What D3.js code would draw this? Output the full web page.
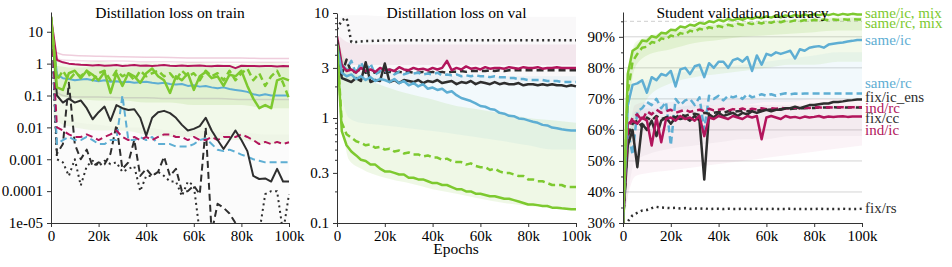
<!DOCTYPE html>
<html>
<head>
<meta charset="utf-8">
<script src="https://cdn.jsdelivr.net/npm/d3@7"></script>
<style>
  body { margin: 0; background: #fff; }
  svg { display: block; font-family: "Liberation Serif", "Times New Roman", serif; }
  .axis text { font-size: 15px; fill: #000; font-family: "Liberation Serif", serif; }
  .axis path, .axis line { stroke: #333; stroke-width: 1; }
  .minor path { display: none; }
  .minor line { stroke: #333; }
  .title { font-size: 15.5px; fill: #000; }
  .legend { font-size: 15px; }
</style>
</head>
<body>
<svg id="chart" width="952" height="267"></svg>
<script>
"use strict";

// ---- shared axis values ----
const xTicks = [0, 20, 40, 60, 80, 100];
const xTickLabels = ["0", "20k", "40k", "60k", "80k", "100k"];

const trainTicks = [1e-5, 1e-4, 0.001, 0.01, 0.1, 1, 10];
const trainTickLabels = ["1e-05", "0.0001", "0.001", "0.01", "0.1", "1", "10"];
const valTicks = [0.1, 0.3, 1, 3, 10];
const valTickLabels = ["0.1", "0.3", "1", "3", "10"];
const accTicks = [30, 40, 50, 60, 70, 80, 90];
const accTickLabels = ["30%", "40%", "50%", "60%", "70%", "80%", "90%"];
const accMinorTicks = [35, 45, 55, 65, 75, 85, 95];

// ---- epochs (thousands) ----
const trainEpochs = [0, 2.5, 5, 7.5, 10, 12.5, 15, 17.5, 20, 22.5, 25, 27.5, 30, 32.5, 35, 37.5, 40, 42.5, 45, 47.5,
  50, 52.5, 55, 57.5, 60, 62.5, 65, 67.5, 70, 72.5, 75, 77.5, 80, 82.5, 85, 87.5, 90, 92.5, 95, 97.5, 100];
const epochs = [0, 2, 4, 6, 8, 10, 12, 14, 16, 18, 20, 22, 24, 26, 28, 30, 32, 34, 36, 38, 40, 42, 44, 46, 48,
  50, 52, 54, 56, 58, 60, 62, 64, 66, 68, 70, 72, 74, 76, 78, 80, 82, 84, 86, 88, 90, 92, 94, 96, 98, 100];
const bandEpochs = [1, 5, 10, 20, 30, 40, 50, 60, 70, 80, 90, 100];

// ---- distillation loss on train ----
const trainRedSolid = [30, 1.3, 1.1, 1.0, 0.95, 0.92, 0.9, 0.88, 0.9, 0.86, 0.88, 0.9, 0.85, 0.87, 0.9, 0.86, 0.88, 0.85, 0.87, 0.9,
  0.86, 0.85, 0.88, 0.84, 0.86, 0.88, 0.85, 0.83, 0.86, 0.84, 0.85, 0.72, 0.86, 0.84, 0.85, 0.83, 0.85, 0.84, 0.82, 0.84, 0.83];
const trainRedDashed = [30, 0.01, 0.008, 0.006, 0.005, 0.005, 0.006, 0.005, 0.004, 0.005, 0.006, 0.008, 0.005, 0.004, 0.005, 0.004,
  0.005, 0.004, 0.005, 0.006, 0.006, 0.005, 0.005, 0.004, 0.005, 0.004, 0.004, 0.005, 0.004, 0.005, 0.005, 0.005, 0.006, 0.005,
  0.004, 0.003, 0.0035, 0.003, 0.0035, 0.003, 0.0034];
const trainBlueSolid = [30, 0.45, 0.35, 0.33, 0.3, 0.32, 0.33, 0.3, 0.28, 0.3, 0.27, 0.28, 0.26, 0.27, 0.25, 0.26, 0.27, 0.25, 0.24, 0.25,
  0.23, 0.22, 0.23, 0.2, 0.21, 0.19, 0.2, 0.18, 0.17, 0.18, 0.16, 0.15, 0.14, 0.13, 0.11, 0.1, 0.11, 0.1, 0.1, 0.1, 0.1];
const trainBlueDashed = [30, 0.003, 0.004, 0.005, 0.004, 0.004, 0.005, 0.004, 0.003, 0.003, 0.004, 0.004, 0.1, 0.004, 0.004, 0.005,
  0.004, 0.005, 0.003, 0.003, 0.003, 0.0025, 0.0025, 0.0025, 0.003, 0.004, 0.0045, 0.003, 0.002, 0.0018, 0.002, 0.0017, 0.0014,
  0.0012, 0.001, 0.0009, 0.0008, 0.0008, 0.0008, 0.0008, 0.0008];
const trainBlackSolid = [30, 0.1, 0.06, 0.08, 0.06, 0.07, 0.04, 0.018, 0.03, 0.045, 0.016, 0.05, 0.04, 0.035, 0.037, 0.02, 0.0055,
  0.02, 0.03, 0.033, 0.028, 0.02, 0.012, 0.008, 0.009, 0.011, 0.02, 0.008, 0.004, 0.0021, 0.004, 0.008, 0.004, 0.0018, 0.0003,
  0.00024, 0.00025, 0.0002, 0.0005, 0.0002, 0.0002];
const trainBlackDashed = [30, 0.0015, 0.003, 0.25, 0.003, 0.001, 0.002, 0.0006, 0.0008, 0.0007, 0.0015, 0.012, 0.0005, 0.0008,
  0.004, 0.0003, 0.0005, 0.0003, 0.0004, 0.0012, 0.0003, 0.0005, 0.0001, 0.0001, 0.00015, 0.00008, 0.01, 0.000005, 0.00004,
  0.00003, 0.00002, 0.00001, null, null, null, null, null, null, null, null, null];
const trainBlackDotted = [30, 0.001, 0.0008, 0.0003, 0.001, 0.00015, 0.0006, 0.0009, 0.0006, 0.0009, 0.0007, 0.0008, 0.0004,
  0.0005, 0.0006, 0.0001, 0.0003, 0.0003, 0.0004, 0.0003, 0.0002, 0.0002, 0.00007, 0.0002, 0.00015, 0.000005, null, null, null,
  null, null, null, null, null, null, 0.000005, 0.00008, 0.0001, 0.0001, 0.000005, 0.00008];
const trainGreenSolid = [30, 0.18, 0.15, 0.5, 0.6, 0.35, 0.6, 0.45, 0.3, 0.55, 0.12, 0.5, 0.2, 0.5, 0.4, 0.25, 0.5, 0.7, 0.4, 0.3,
  0.12, 0.4, 0.3, 0.5, 0.15, 0.4, 0.55, 0.35, 0.4, 0.2, 0.45, 0.4, 0.6, 0.2, 0.08, 0.04, 0.05, 0.04, 0.3, 0.35, 0.3];
const trainGreenDashed = [30, 0.3, 0.6, 0.3, 0.5, 0.4, 0.6, 0.3, 0.5, 0.6, 0.3, 0.6, 0.4, 0.5, 0.3, 0.6, 0.4, 0.5, 0.6, 0.4, 0.5,
  0.3, 0.6, 0.4, 0.5, 0.3, 0.6, 0.4, 0.5, 0.3, 0.6, 0.3, 0.5, 0.7, 0.3, 0.5, 0.2, 0.4, 0.6, 0.25, 0.08];
// faint background of the many other runs
const trainGreenLow = [0.02, 0.012, 0.01, 0.008, 0.008, 0.006, 0.005, 0.005, 0.004, 0.004, 0.003, 0.003];
const trainGreenHigh = [1.5, 1.1, 1.0, 1.2, 1.0, 1.1, 1.0, 1.1, 1.0, 1.0, 1.1, 1.0];
const trainGreenCoreLow = [0.1, 0.09, 0.08, 0.07, 0.07, 0.06, 0.06, 0.05, 0.05, 0.05, 0.04, 0.04];
const trainGreenCoreHigh = [0.9, 0.8, 0.75, 0.8, 0.75, 0.8, 0.75, 0.8, 0.75, 0.8, 0.75, 0.8];
const trainGrayLow = [0.00001, 0.00001, 0.00001, 0.00001, 0.00001, 0.00001, 0.00001, 0.00001, 0.00001, 0.00001, 0.00001, 0.00001];
const trainGrayHigh = [0.05, 0.02, 0.015, 0.012, 0.01, 0.01, 0.008, 0.008, 0.007, 0.007, 0.006, 0.006];
const trainPinkFaint = [2.5, 1.9, 1.8, 1.7, 1.65, 1.6, 1.55, 1.5, 1.5, 1.5, 1.45, 1.45];
const trainPinkFaint2 = [1.6, 1.3, 1.25, 1.2, 1.2, 1.15, 1.15, 1.1, 1.1, 1.1, 1.1, 1.1];
const trainGrayFaint = [0.15, 0.1, 0.09, 0.09, 0.085, 0.085, 0.08, 0.08, 0.08, 0.075, 0.075, 0.075];

// ---- distillation loss on val ----
const valBlueSolid = [5.0, 2.7, 2.5, 2.6, 2.35, 2.5, 2.3, 2.45, 2.25, 2.35, 2.3, 2.2, 2.35, 2.15, 2.25, 2.05, 2.15, 2.0, 2.1, 1.9,
  1.95, 1.85, 1.9, 1.75, 1.8, 1.65, 1.55, 1.5, 1.45, 1.38, 1.3, 1.28, 1.22, 1.2, 1.12, 1.1, 1.05, 1.04, 0.99, 0.98, 0.95, 0.92,
  0.9, 0.86, 0.85, 0.81, 0.8, 0.78, 0.77, 0.76, 0.76];
const valBlueDashed = [5.0, 3.2, 2.9, 3.5, 2.6, 3.4, 2.7, 3.3, 2.6, 2.8, 2.7, 2.9, 2.6, 2.75, 2.6, 2.7, 2.65, 2.7, 2.6, 2.65, 2.6,
  2.7, 2.55, 2.6, 2.55, 2.6, 2.5, 2.55, 2.5, 2.55, 2.5, 2.5, 2.45, 2.5, 2.45, 2.45, 2.4, 2.4, 2.35, 2.35, 2.3, 2.3, 2.3, 2.3,
  2.25, 2.25, 2.25, 2.2, 2.2, 2.2, 2.2];
const valRedSolid = [6.0, 3.2, 2.8, 2.9, 2.7, 3.0, 2.8, 2.9, 2.75, 3.0, 2.85, 2.9, 2.8, 3.05, 2.9, 2.85, 3.0, 2.9, 2.95, 2.85, 3.0,
  2.9, 3.0, 3.5, 2.85, 3.0, 2.9, 3.1, 2.95, 3.0, 2.9, 3.05, 2.95, 3.0, 3.0, 2.95, 3.05, 3.0, 2.95, 3.05, 3.0, 3.0, 3.05, 2.95,
  3.0, 3.0, 3.05, 3.0, 3.0, 3.0, 3.0];
const valBlackSolid = [5.5, 2.4, 2.3, 2.2, 2.4, 2.25, 3.4, 2.2, 2.3, 2.25, 3.3, 2.2, 2.3, 2.15, 2.3, 2.25, 2.2, 2.3, 2.15, 2.25,
  2.2, 2.3, 2.15, 2.2, 2.25, 2.1, 2.2, 2.15, 2.25, 2.1, 2.2, 2.15, 2.1, 2.2, 2.1, 2.15, 2.1, 2.1, 2.15, 2.05, 2.1, 2.1, 2.05,
  2.1, 2.05, 2.1, 2.05, 2.05, 2.0, 2.05, 2.0];
const valBlackDashed = [5.5, 2.6, 3.6, 2.7, 2.8, 2.9, 2.7, 2.8, 2.7, 2.75, 2.7, 2.75, 2.7, 2.75, 2.7, 2.75, 2.7, 2.7, 2.75, 2.7,
  2.75, 2.7, 2.75, 2.7, 2.75, 2.75, 2.8, 2.75, 2.8, 2.8, 2.8, 2.8, 2.85, 2.8, 2.85, 2.8, 2.85, 2.85, 2.85, 2.85, 2.85, 2.85,
  2.85, 2.85, 2.85, 2.85, 2.85, 2.85, 2.85, 2.85, 2.85];
const valBlackDotted = [7, 8.5, 9, 5.3, 5.3, 5.35, 5.4, 5.4, 5.45, 5.45, 5.5, 5.5, 5.5, 5.5, 5.5, 5.5, 5.5, 5.5, 5.5, 5.5, 5.5,
  5.5, 5.5, 5.5, 5.5, 5.5, 5.5, 5.5, 5.5, 5.5, 5.5, 5.5, 5.5, 5.5, 5.5, 5.5, 5.5, 5.5, 5.5, 5.5, 5.5, 5.5, 5.5, 5.5, 5.5,
  5.5, 5.5, 5.5, 5.5, 5.5, 5.5];
const valGreenDashed = [5.0, 0.9, 0.7, 0.65, 0.6, 0.58, 0.55, 0.56, 0.52, 0.53, 0.5, 0.51, 0.48, 0.49, 0.46, 0.47, 0.45, 0.45,
  0.43, 0.44, 0.42, 0.42, 0.4, 0.41, 0.39, 0.38, 0.38, 0.36, 0.37, 0.35, 0.34, 0.34, 0.32, 0.33, 0.31, 0.3, 0.3, 0.29, 0.28,
  0.28, 0.26, 0.26, 0.25, 0.25, 0.24, 0.23, 0.23, 0.23, 0.22, 0.22, 0.22];
const valGreenSolid = [5.0, 0.75, 0.55, 0.48, 0.44, 0.4, 0.39, 0.36, 0.36, 0.33, 0.31, 0.31, 0.3, 0.29, 0.29, 0.27, 0.27, 0.26,
  0.26, 0.25, 0.24, 0.24, 0.23, 0.23, 0.22, 0.21, 0.21, 0.2, 0.2, 0.19, 0.19, 0.185, 0.18, 0.18, 0.175, 0.17, 0.17, 0.165,
  0.16, 0.155, 0.15, 0.15, 0.148, 0.145, 0.145, 0.14, 0.14, 0.138, 0.137, 0.135, 0.135];
const valGrayLow = [3, 2.3, 2.2, 2.2, 2.2, 2.2, 2.2, 2.2, 2.2, 2.2, 2.2, 2.2];
const valGrayHigh = [9, 9.5, 9.5, 9.3, 9.2, 9.2, 9.2, 9.2, 9.2, 9.2, 9.2, 9.2];
const valPinkLow = [3.5, 3.2, 3.2, 3.2, 3.2, 3.2, 3.2, 3.2, 3.2, 3.2, 3.2, 3.2];
const valPinkHigh = [6, 5.2, 5.0, 5.0, 5.0, 5.0, 5.0, 5.0, 5.0, 5.0, 5.0, 5.0];
const valBlueLow = [2, 1.0, 0.9, 0.85, 0.8, 0.75, 0.7, 0.65, 0.6, 0.55, 0.5, 0.5];
const valBlueHigh = [4, 3.0, 2.8, 2.7, 2.6, 2.6, 2.5, 2.5, 2.5, 2.5, 2.5, 2.5];
const valGreenLow = [1.5, 0.4, 0.33, 0.27, 0.24, 0.21, 0.19, 0.17, 0.155, 0.145, 0.14, 0.135];
const valGreenHigh = [5, 3.0, 2.5, 2.0, 1.7, 1.5, 1.3, 1.2, 1.1, 1.0, 0.95, 0.9];

// ---- student validation accuracy (%) ----
const accGreenSolid = [30, 78, 85.5, 86.5, 88.8, 88.6, 90.2, 89.8, 91.3, 91.1, 92.3, 92.1, 93.3, 93.0, 93.9, 93.6, 94.5, 94.2,
  95.0, 94.7, 95.5, 95.0, 95.8, 95.3, 95.9, 95.5, 96.2, 95.8, 96.4, 96.0, 96.6, 96.2, 96.8, 96.3, 96.9, 96.5, 97.1, 96.6, 97.2,
  96.8, 97.3, 96.9, 97.4, 97.0, 97.4, 97.0, 97.4, 97.1, 97.4, 97.2, 97.2];
const accGreenDashed = [30, 72, 82, 84.5, 86.5, 86.8, 88.3, 88.0, 89.5, 89.2, 90.4, 90.0, 91.2, 90.8, 92.0, 91.6, 92.6, 92.2,
  93.1, 92.7, 93.5, 93.1, 93.9, 93.5, 94.2, 93.8, 94.5, 94.1, 94.7, 94.3, 94.9, 94.5, 95.1, 94.7, 95.2, 94.9, 95.3, 95.0, 95.4,
  95.1, 95.5, 95.2, 95.6, 95.3, 95.6, 95.4, 95.7, 95.5, 95.7, 95.6, 95.6];
const accBlueSolid = [30, 68, 74.5, 75, 76, 72, 77, 76, 78, 77.5, 79, 74, 79.5, 80, 78, 80.5, 81, 77, 81.5, 80, 82, 82, 80, 82.5,
  83, 82, 83.5, 79, 84, 81, 84.5, 84, 85, 84.5, 85, 85.5, 83, 86, 85.5, 86.5, 86.8, 87, 86.5, 87.5, 87.8, 88, 88.2, 88.5, 88.7,
  89, 89];
const accBlueDashed = [30, 60, 52, 66, 67, 69, 68, 70, 67, 69, 55, 70, 68, 69.5, 70, 68, 70.5, 60, 71, 70, 71, 69.5, 71, 70.5, 71,
  70, 71.5, 70.5, 71, 71.5, 71, 71.5, 71, 71.5, 71.8, 71.5, 71.7, 71.6, 71.7, 71.7, 71.7, 71.7, 71.7, 71.7, 71.7, 71.7, 71.7,
  71.7, 71.7, 71.7, 71.7];
const accBlackSolid = [30, 55, 60, 48, 62, 60, 63, 58, 63, 64, 62, 64, 63.5, 64, 63, 64.5, 63, 44, 65, 64, 65.5, 64.5, 65, 65.5,
  64.5, 65.5, 65, 66, 65.5, 66, 66.5, 66, 66.5, 66.5, 67, 67, 67.5, 67, 67.5, 68, 68, 68.3, 68.5, 68.5, 69, 69, 69.2, 69.5,
  69.6, 69.8, 69.8];
const accBlackDashed = [30, 58, 62, 63, 61, 64, 63, 64.5, 63.5, 64, 64.5, 64, 65, 64.5, 65, 65.2, 64.8, 65.5, 65.2, 65.5, 65.8,
  65.5, 66, 65.8, 66, 66.2, 66, 66.3, 66.2, 66.5, 66.4, 66.6, 66.5, 66.7, 66.8, 66.7, 66.9, 67, 67, 67.1, 67.1, 67.2, 67.2,
  67.2, 67.3, 67.2, 67.3, 67.2, 67.3, 67.2, 67.2];
const accRedSolid = [30, 62, 63, 62, 64, 63, 55, 64, 56, 63.5, 64, 63, 64.5, 63.5, 64, 63, 64.5, 58, 64, 63.5, 64.5, 64, 63.5,
  64.5, 64, 63.5, 64.5, 64, 64.5, 57, 64, 64.5, 64, 63.5, 64.5, 64, 64.2, 63.8, 64.3, 64, 64.2, 64.5, 64, 64.3, 64.2, 64.3,
  64.4, 64.2, 64.3, 64.3, 64.3];
const accRedDashed = [30, 60, 64, 65, 63, 66, 65, 66.5, 65.5, 66, 66.5, 65.5, 66, 66.5, 65.8, 66.2, 66.5, 66, 66.8, 66.3, 66.5,
  66.8, 66.2, 66.7, 66.5, 66.9, 66.4, 66.8, 66.6, 67, 66.7, 67, 66.8, 67.1, 66.9, 67, 67.2, 67, 67.2, 67.1, 67.2, 67.3, 67.1,
  67.3, 67.2, 67.3, 67.3, 67.2, 67.3, 67.3, 67.3];
const accBlackDotted = [30, 30.5, 32.5, 33.3, 34, 34.2, 34.8, 35.2, 35, 34.9, 34.8, 34.9, 34.7, 34.8, 34.6, 34.7, 34.6, 34.7,
  34.5, 34.6, 34.6, 34.5, 34.6, 34.5, 34.5, 34.6, 34.5, 34.5, 34.6, 34.5, 34.5, 34.6, 34.5, 34.5, 34.5, 34.6, 34.5, 34.5, 34.5,
  34.5, 34.5, 34.6, 34.5, 34.5, 34.5, 34.5, 34.6, 34.5, 34.5, 34.5, 34.6];
const accGreenLow = [45, 60, 70, 75, 77, 78, 79, 80, 81, 81, 82, 82];
const accGreenHigh = [70, 88, 90, 92, 93.5, 94.5, 95, 95.5, 96, 96, 96.5, 96.5];
const accGreenCoreLow = [55, 80, 84, 86, 88, 89, 90, 90.5, 91, 91.5, 92, 92];
const accGreenCoreHigh = [68, 87, 89.5, 91.5, 93, 94, 94.5, 95, 95.5, 95.8, 96, 96.2];
const accBlueLow = [40, 62, 64, 66, 67, 68, 68, 69, 69, 70, 70, 70];
const accBlueHigh = [55, 74, 76, 78, 79, 80, 81, 82, 83, 84, 85, 85];
const accPinkLow = [35, 45, 46, 47, 48, 49, 50, 51, 52, 53, 54, 55];
const accPinkHigh = [45, 68, 69, 69, 70, 70, 70, 70, 70, 70, 70, 70];
const accGrayLow = [32, 50, 52, 54, 55, 56, 57, 57, 58, 58, 58, 58];
const accGrayHigh = [45, 66, 67, 67, 68, 68, 68, 68, 68, 68, 68, 68];
const accGrid = [40, 50, 60, 70, 80, 90];
const accDashedGrid = [95];

const legendLabels = ["same/ic, mix", "same/rc, mix", "same/ic", "same/rc", "fix/ic_ens", "ind/rc", "fix/cc", "ind/ic", "fix/rs"];
const legendLevels = [97.9, 94.6, 89.1, 75.3, 70.7, 67.3, 63.8, 60.1, 35.0];
const legendGroups = ["green", "green", "blue", "blue", "black", "red", "black", "red", "black"];

const titles = ["Distillation loss on train", "Distillation loss on val", "Student validation accuracy"];

const COLORS = { green: "#7dc92f", blue: "#5eaed3", red: "#b2155c", black: "#2e2e2e", pink: "#c9588a", gray: "#9a8fa0" };
const DASH = { solid: null, dashed: "7,4", dotted: "2,3.5" };

const svg = d3.select("#chart");
const defs = svg.append("defs");

function drawPanel(cfg) {
  const x = d3.scaleLinear().domain([0, 100]).range([cfg.left, cfg.right]);
  const y = cfg.y;
  const g = svg.append("g");

  defs.append("clipPath").attr("id", "clip-" + cfg.id)
    .append("rect")
    .attr("x", cfg.left).attr("y", cfg.top - 1)
    .attr("width", cfg.right - cfg.left + 2).attr("height", cfg.bottom - cfg.top + 1);

  const plot = g.append("g").attr("clip-path", `url(#clip-${cfg.id})`);

  (cfg.grid || []).forEach(v => {
    plot.append("line")
      .attr("x1", cfg.left).attr("x2", cfg.right)
      .attr("y1", y(v)).attr("y2", y(v))
      .attr("stroke", "#d4d4d4").attr("stroke-width", 1);
  });
  (cfg.dashedGrid || []).forEach(v => {
    plot.append("line")
      .attr("x1", cfg.left).attr("x2", cfg.right)
      .attr("y1", y(v)).attr("y2", y(v))
      .attr("stroke", "#cfcfcf").attr("stroke-dasharray", "4,3");
  });

  cfg.bands.forEach(b => {
    const area = d3.area()
      .x((d, i) => x(bandEpochs[i]))
      .y0((d, i) => y(b.low[i]))
      .y1((d, i) => y(b.high[i]))
      .curve(d3.curveMonotoneX);
    plot.append("path")
      .attr("d", area(b.low))
      .attr("fill", COLORS[b.color])
      .attr("opacity", b.opacity);
  });

  cfg.faint.forEach(f => {
    const line = d3.line()
      .x((d, i) => x(bandEpochs[i]))
      .y(d => y(d))
      .curve(d3.curveMonotoneX);
    plot.append("path")
      .attr("d", line(f.values))
      .attr("fill", "none")
      .attr("stroke", COLORS[f.color])
      .attr("stroke-width", 1.5)
      .attr("opacity", f.opacity);
  });

  cfg.series.forEach(s => {
    const line = d3.line()
      .defined(d => d != null)
      .x((d, i) => x(cfg.epochs[i]))
      .y(d => y(d));
    plot.append("path")
      .attr("d", line(s.values))
      .attr("fill", "none")
      .attr("stroke", COLORS[s.color])
      .attr("stroke-width", s.width || cfg.lineWidth)
      .attr("stroke-dasharray", DASH[s.dash])
      .attr("stroke-linejoin", "round");
  });

  g.append("g")
    .attr("class", "axis")
    .attr("transform", `translate(${cfg.left},0)`)
    .call(d3.axisLeft(y).tickValues(cfg.ticks).tickFormat((d, i) => cfg.tickLabels[i]).tickSize(4).tickPadding(4).tickSizeOuter(0));

  if (cfg.minorTicks) {
    g.append("g")
      .attr("class", "axis minor")
      .attr("transform", `translate(${cfg.left},0)`)
      .call(d3.axisLeft(y).tickValues(cfg.minorTicks).tickFormat("").tickSize(2));
  }

  g.append("g")
    .attr("class", "axis")
    .attr("transform", `translate(0,${cfg.bottom})`)
    .call(d3.axisBottom(x).tickValues(xTicks).tickFormat((d, i) => xTickLabels[i]).tickSize(4).tickPadding(3).tickSizeOuter(0));

  g.append("text")
    .attr("class", "title")
    .attr("x", (cfg.left + cfg.right) / 2)
    .attr("y", 18)
    .attr("text-anchor", "middle")
    .text(cfg.title);

  return { x, y };
}

const logMinor = [0.2, 0.4, 0.5, 0.6, 0.7, 0.8, 0.9, 2, 4, 5, 6, 7, 8, 9];

drawPanel({
  id: "train", title: titles[0], left: 51, right: 289, top: 12, bottom: 223,
  y: d3.scaleLog().domain([1e-5, 41.7]).range([223, 12]),
  ticks: trainTicks, tickLabels: trainTickLabels,
  epochs: trainEpochs, lineWidth: 2,
  bands: [
    { low: trainGrayLow, high: trainGrayHigh, color: "gray", opacity: 0.04 },
    { low: trainGreenLow, high: trainGreenHigh, color: "green", opacity: 0.1 },
    { low: trainGreenCoreLow, high: trainGreenCoreHigh, color: "green", opacity: 0.14 }
  ],
  faint: [
    { values: trainPinkFaint, color: "pink", opacity: 0.3 },
    { values: trainPinkFaint2, color: "pink", opacity: 0.2 },
    { values: trainGrayFaint, color: "gray", opacity: 0.3 }
  ],
  series: [
    { values: trainBlackDotted, color: "black", dash: "dotted" },
    { values: trainBlackDashed, color: "black", dash: "dashed" },
    { values: trainBlueDashed, color: "blue", dash: "dashed" },
    { values: trainRedDashed, color: "red", dash: "dashed" },
    { values: trainBlackSolid, color: "black", dash: "solid" },
    { values: trainBlueSolid, color: "blue", dash: "solid" },
    { values: trainRedSolid, color: "red", dash: "solid" },
    { values: trainGreenDashed, color: "green", dash: "dashed", width: 2.5 },
    { values: trainGreenSolid, color: "green", dash: "solid", width: 2.5 }
  ]
});

drawPanel({
  id: "val", title: titles[1], left: 337, right: 576, top: 12, bottom: 223,
  y: d3.scaleLog().domain([0.1, 10]).range([223, 13]),
  ticks: valTicks, tickLabels: valTickLabels, minorTicks: logMinor,
  epochs: epochs, lineWidth: 2.5,
  bands: [
    { low: valGrayLow, high: valGrayHigh, color: "gray", opacity: 0.06 },
    { low: valPinkLow, high: valPinkHigh, color: "pink", opacity: 0.1 },
    { low: valBlueLow, high: valBlueHigh, color: "blue", opacity: 0.08 },
    { low: valGreenLow, high: valGreenHigh, color: "green", opacity: 0.12 }
  ],
  faint: [],
  series: [
    { values: valBlackDotted, color: "black", dash: "dotted" },
    { values: valBlackDashed, color: "black", dash: "dashed" },
    { values: valBlueDashed, color: "blue", dash: "dashed" },
    { values: valRedSolid, color: "red", dash: "solid" },
    { values: valBlackSolid, color: "black", dash: "solid" },
    { values: valBlueSolid, color: "blue", dash: "solid" },
    { values: valGreenDashed, color: "green", dash: "dashed" },
    { values: valGreenSolid, color: "green", dash: "solid" }
  ]
});

const acc = drawPanel({
  id: "acc", title: titles[2], left: 623, right: 862, top: 12, bottom: 223,
  y: d3.scaleLinear().domain([30, 98]).range([223, 12]),
  ticks: accTicks, tickLabels: accTickLabels, minorTicks: accMinorTicks,
  grid: accGrid, dashedGrid: accDashedGrid,
  epochs: epochs, lineWidth: 2.5,
  bands: [
    { low: accGrayLow, high: accGrayHigh, color: "gray", opacity: 0.07 },
    { low: accPinkLow, high: accPinkHigh, color: "pink", opacity: 0.07 },
    { low: accBlueLow, high: accBlueHigh, color: "blue", opacity: 0.08 },
    { low: accGreenLow, high: accGreenHigh, color: "green", opacity: 0.1 },
    { low: accGreenCoreLow, high: accGreenCoreHigh, color: "green", opacity: 0.14 }
  ],
  faint: [],
  series: [
    { values: accBlackDotted, color: "black", dash: "dotted" },
    { values: accBlueDashed, color: "blue", dash: "dashed" },
    { values: accBlackDashed, color: "black", dash: "dashed" },
    { values: accRedDashed, color: "red", dash: "dashed" },
    { values: accBlackSolid, color: "black", dash: "solid" },
    { values: accRedSolid, color: "red", dash: "solid" },
    { values: accBlueSolid, color: "blue", dash: "solid" },
    { values: accGreenDashed, color: "green", dash: "dashed" },
    { values: accGreenSolid, color: "green", dash: "solid" }
  ]
});

svg.append("g").selectAll("text")
  .data(legendLabels)
  .join("text")
  .attr("class", "legend")
  .attr("x", acc.x(100) + 3)
  .attr("y", (d, i) => acc.y(legendLevels[i]))
  .attr("dy", "0.35em")
  .attr("fill", (d, i) => COLORS[legendGroups[i]])
  .text(d => d);

svg.append("text")
  .attr("class", "title")
  .attr("x", 456)
  .attr("y", 254)
  .attr("text-anchor", "middle")
  .text("Epochs");
</script>
</body>
</html>
